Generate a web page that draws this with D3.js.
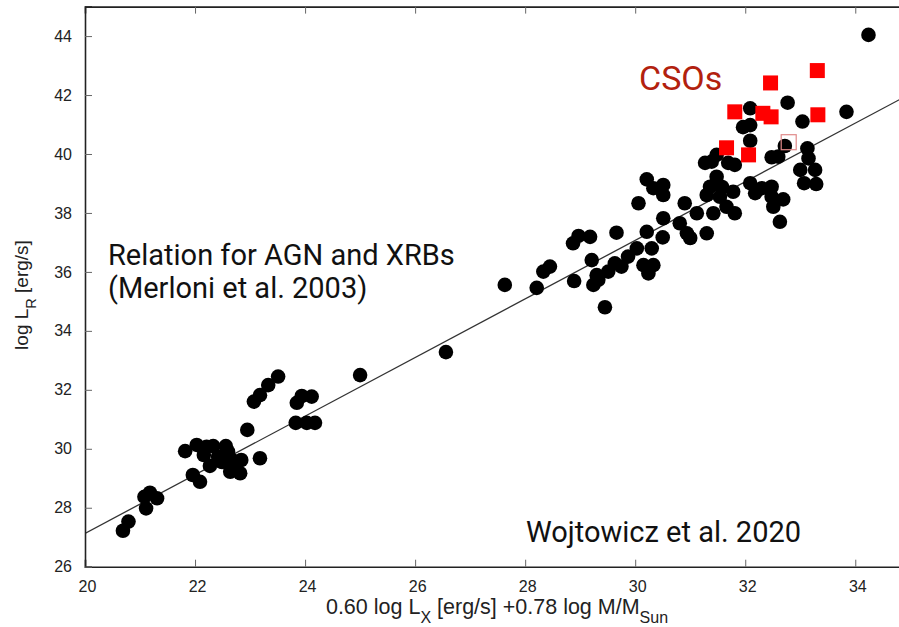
<!DOCTYPE html>
<html>
<head>
<meta charset="utf-8">
<script src="https://cdn.jsdelivr.net/npm/d3@7"></script>
<style>
  html, body { margin: 0; padding: 0; background: #fff; }
  svg { display: block; }
</style>
</head>
<body>
<svg id="chart" width="899" height="627"></svg>
<script>
// ---- data ----
const xTicks = [20, 22, 24, 26, 28, 30, 32, 34];
const yTicks = [26, 28, 30, 32, 34, 36, 38, 40, 42, 44];

// black dots: AGN and XRBs sample
const dotX = [
  20.69, 20.79, 21.11, 21.08, 21.18, 21.31, 21.82, 21.96, 22.09, 22.03,
  22.21, 22.33, 22.16, 22.27, 22.42, 22.60, 22.67, 22.64, 22.82, 22.84,
  22.74, 22.95, 23.18, 23.07, 23.18, 23.33, 23.51, 23.85, 23.94, 24.12,
  23.83, 24.03, 24.18, 25.00, 26.56, 22.49, 22.56,
  27.63, 28.21, 28.33, 28.45, 28.87, 28.97, 28.89, 29.21, 29.30, 29.24,
  29.33, 29.45, 29.51, 29.63, 29.75, 29.87, 30.03, 30.15, 30.24, 30.33,
  30.30, 29.18,
  31.27, 31.39, 31.48, 31.69, 31.81, 31.48, 30.21, 30.51, 30.51, 30.06,
  31.36, 31.30, 31.54, 31.78, 30.90, 31.12, 31.42, 31.66, 31.81, 30.51,
  30.21, 30.81, 30.94, 31.30, 29.66, 30.33, 30.50, 31.00, 31.58,
  32.09, 32.77, 33.04, 33.84, 31.96, 32.09, 32.09, 32.72, 32.48, 32.60,
  33.13, 33.15, 33.00, 33.27, 33.07, 33.29, 32.09, 32.18, 32.30, 32.48,
  32.48, 32.69, 32.51, 32.63, 34.24
];
const dotY = [
  27.22, 27.53, 27.98, 28.37, 28.51, 28.32, 29.92, 29.11, 28.88, 30.13,
  30.07, 30.09, 29.79, 29.42, 29.73, 29.90, 29.62, 29.22, 29.17, 29.62,
  29.42, 30.64, 29.68, 31.60, 31.82, 32.16, 32.45, 31.56, 31.79, 31.77,
  30.88, 30.88, 30.88, 32.50, 33.28, 29.55, 30.09,
  35.56, 35.46, 36.01, 36.18, 36.97, 37.22, 35.69, 36.40, 35.89, 35.56,
  35.73, 34.80, 36.01, 36.29, 36.18, 36.52, 36.80, 36.23, 35.95, 36.23,
  36.80, 37.19,
  39.70, 39.74, 39.97, 39.70, 39.63, 39.23, 39.14, 38.95, 38.61, 38.33,
  38.89, 38.61, 38.55, 38.72, 38.33, 37.99, 37.99, 38.21, 37.99, 37.82,
  37.36, 37.65, 37.31, 37.31, 37.33, 38.84, 37.17, 37.15, 38.88,
  41.55, 41.74, 41.10, 41.43, 40.91, 40.98, 40.45, 40.27, 39.89, 39.91,
  40.19, 39.85, 39.46, 39.46, 39.01, 38.98, 39.01, 38.67, 38.84, 38.89,
  38.55, 38.46, 38.21, 37.70, 44.04
];

// red squares: CSOs
const csoX = [32.46, 33.31, 31.81, 32.32, 32.47, 33.32, 31.66, 32.06];
const csoY = [42.41, 42.83, 41.43, 41.38, 41.26, 41.33, 40.21, 39.97];
// open square
const openX = [32.79];
const openY = [40.40];

// Merloni et al. 2003 relation (end points)
const relX = [20, 35];
const relY = [27.13, 42.04];

// ---- drawing ----
const svg = d3.select("#chart");
const mLeft = 85, mTop = 6.6, mBottom = 566.7, mRight = 910.3;
const x = d3.scaleLinear().domain([20, 35]).range([mLeft, mRight]);
const y = d3.scaleLinear().domain([26, 45]).range([mBottom, mTop]);

const tickFont = "'Liberation Sans', Arial, sans-serif";
const annFont = "Roboto, 'Noto Sans', sans-serif";

svg.append("clipPath").attr("id", "clip")
  .append("rect").attr("x", mLeft).attr("y", mTop)
  .attr("width", mRight - mLeft).attr("height", mBottom - mTop);

const plot = svg.append("g").attr("clip-path", "url(#clip)");

// relation line
plot.append("line")
  .attr("x1", x(relX[0])).attr("y1", y(relY[0]))
  .attr("x2", x(relX[1])).attr("y2", y(relY[1]))
  .attr("stroke", "#333").attr("stroke-width", 1.3);

// dots
plot.selectAll("circle.dot").data(d3.range(dotX.length)).enter()
  .append("circle").attr("class", "dot")
  .attr("cx", i => x(dotX[i])).attr("cy", i => y(dotY[i]))
  .attr("r", 7.3).attr("fill", "#000");

// CSO squares
const sq = 15;
plot.selectAll("rect.cso").data(d3.range(csoX.length)).enter()
  .append("rect").attr("class", "cso")
  .attr("x", i => x(csoX[i]) - sq / 2).attr("y", i => y(csoY[i]) - sq / 2)
  .attr("width", sq).attr("height", sq).attr("fill", "#ff0000");

plot.selectAll("rect.open").data(d3.range(openX.length)).enter()
  .append("rect").attr("class", "open")
  .attr("x", i => x(openX[i]) - sq / 2).attr("y", i => y(openY[i]) - sq / 2)
  .attr("width", sq).attr("height", sq)
  .attr("fill", "none").attr("stroke", "#e08a8a").attr("stroke-width", 1.2);

// axes (ticks pointing inward)
const axisColor = "#222";
const xAxis = d3.axisBottom(x).tickValues(xTicks).tickSize(-7).tickPadding(14)
  .tickFormat(d3.format("d"));
const gx = svg.append("g").attr("transform", `translate(0,${mBottom})`).call(xAxis);
const xTopAxis = d3.axisTop(x).tickValues(xTicks).tickSize(-7).tickFormat("");
const gxt = svg.append("g").attr("transform", `translate(0,${mTop})`).call(xTopAxis);
const yAxis = d3.axisLeft(y).tickValues(yTicks).tickSize(-7).tickPadding(13)
  .tickFormat(d3.format("d"));
const gy = svg.append("g").attr("transform", `translate(${mLeft},0)`).call(yAxis);

[gx, gxt, gy].forEach(g => {
  g.select(".domain").attr("stroke", axisColor).attr("stroke-width", 1.6);
  g.selectAll(".tick line").attr("stroke", "#666").attr("stroke-width", 1);
  g.selectAll(".tick text").attr("font-family", tickFont).attr("font-size", 16)
    .attr("fill", "#222");
});
gx.selectAll(".tick text").attr("dx", 2);
svg.append("line").attr("x1", mRight).attr("x2", mRight).attr("y1", mTop).attr("y2", mBottom)
  .attr("stroke", axisColor).attr("stroke-width", 1.6);

// axis titles
const xt = svg.append("text")
  .attr("x", 497).attr("y", 614).attr("text-anchor", "middle")
  .attr("font-family", tickFont).attr("font-size", 21.5).attr("fill", "#222");
xt.append("tspan").text("0.60 log L");
xt.append("tspan").attr("baseline-shift", "sub").attr("font-size", 16).text("X");
xt.append("tspan").text(" [erg/s] +0.78 log M/M");
xt.append("tspan").attr("baseline-shift", "sub").attr("font-size", 16).text("Sun");

const yt = svg.append("text")
  .attr("transform", "translate(28,295) rotate(-90)").attr("text-anchor", "middle")
  .attr("font-family", tickFont).attr("font-size", 19).attr("fill", "#222");
yt.append("tspan").text("log L");
yt.append("tspan").attr("baseline-shift", "sub").attr("font-size", 14.5).text("R");
yt.append("tspan").text(" [erg/s]");

// annotations
svg.append("text").attr("x", 108).attr("y", 265)
  .attr("font-family", annFont).attr("font-size", 29).attr("fill", "#111")
  .text("Relation for AGN and XRBs");
svg.append("text").attr("x", 108).attr("y", 298)
  .attr("font-family", annFont).attr("font-size", 29).attr("fill", "#111")
  .text("(Merloni et al. 2003)");
svg.append("text").attr("x", 526).attr("y", 542)
  .attr("font-family", annFont).attr("font-size", 29).attr("fill", "#111")
  .text("Wojtowicz et al. 2020");
svg.append("text").attr("x", 639).attr("y", 90)
  .attr("font-family", annFont).attr("font-size", 34).attr("fill", "#b2210e")
  .text("CSOs");
</script>
</body>
</html>
